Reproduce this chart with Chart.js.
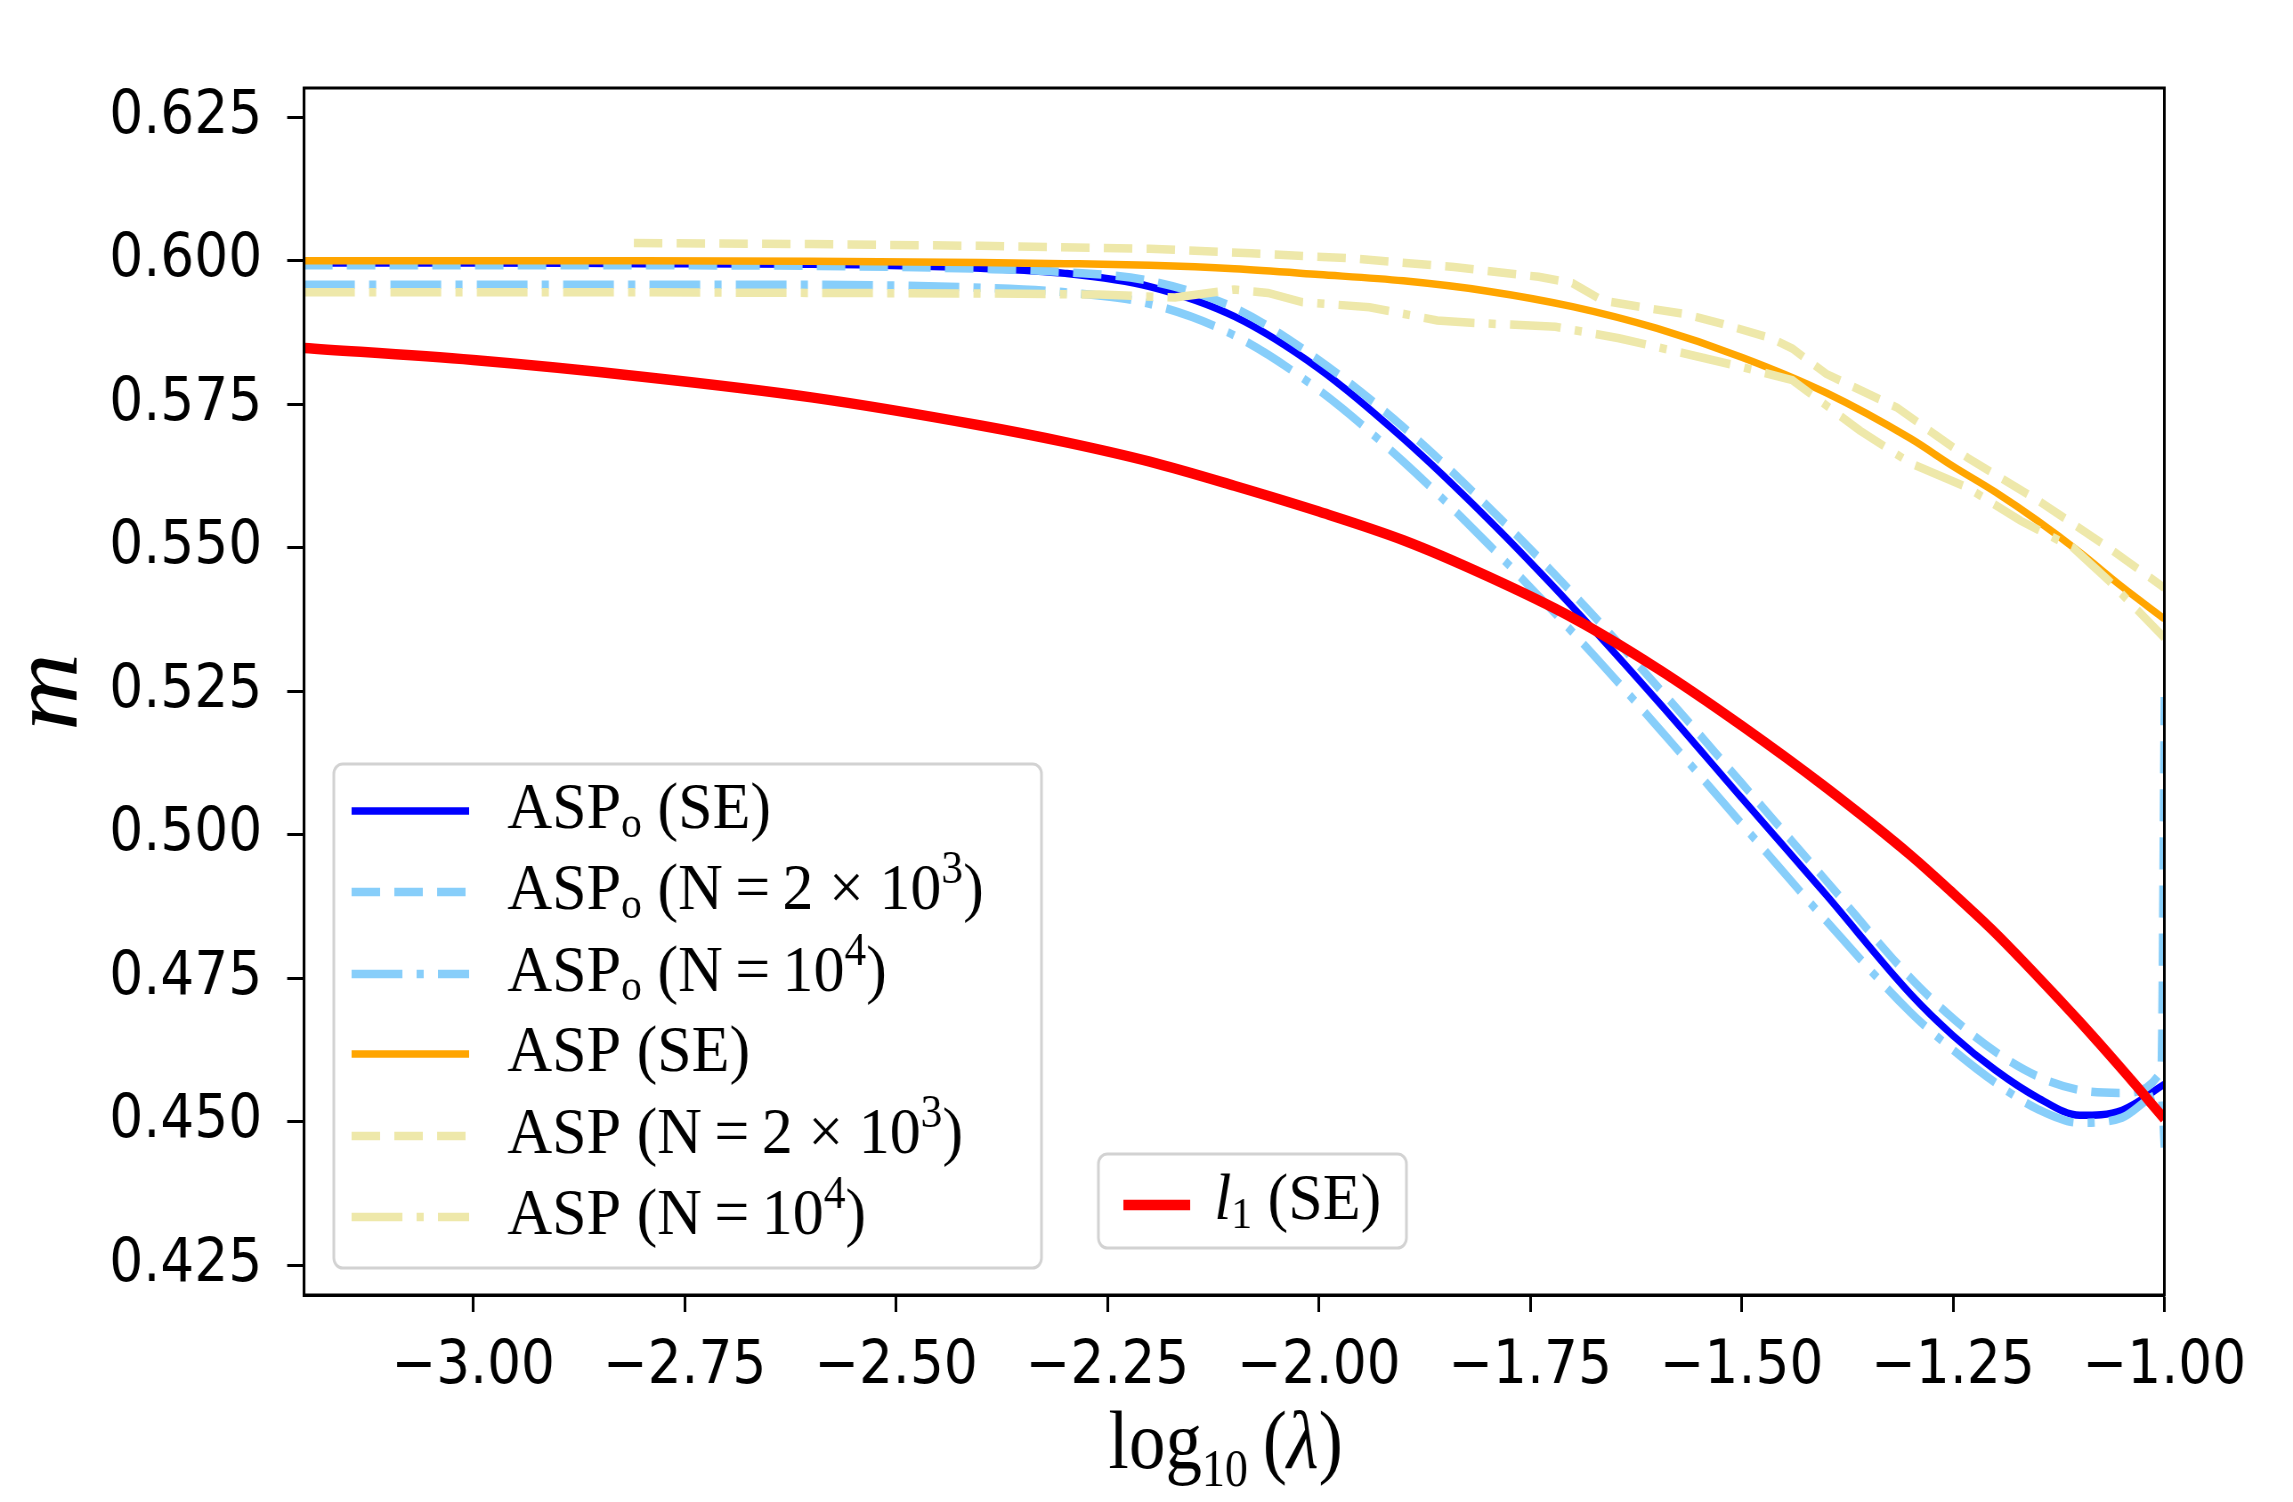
<!DOCTYPE html>
<html>
<head>
<meta charset="utf-8">
<script src="https://cdn.jsdelivr.net/npm/chart.js@4.4.0/dist/chart.umd.min.js"></script>
<style>
html, body { margin: 0; padding: 0; background: #fff; overflow: hidden; }
/* the source figure is squeezed horizontally, so the whole canvas is too */
#wrap { width: 2576px; height: 1502px; transform: scaleX(0.89014); transform-origin: 0 0; }
</style>
</head>
<body>
<div id="wrap"><canvas id="myChart" width="2576" height="1502"></canvas></div>
<script>
// log10(lambda) grid used by the smooth curves
var lamGrid = [-3.2, -3.0, -2.8, -2.6, -2.4, -2.3, -2.2, -2.1, -2.0, -1.9, -1.8, -1.7, -1.6, -1.5, -1.4, -1.3, -1.25, -1.2, -1.15, -1.1, -1.05, -1.0];
var aspoSE = [0.5996, 0.5996, 0.5995, 0.5994, 0.5987, 0.5978, 0.5955, 0.5903, 0.5812, 0.5690, 0.5550, 0.5397, 0.5234, 0.5064, 0.4895, 0.4722, 0.4650, 0.4590, 0.4542, 0.4511, 0.4520, 0.4565];
var aspSE = [0.6000, 0.6000, 0.6000, 0.5999, 0.5997, 0.5995, 0.5992, 0.5986, 0.5976, 0.5965, 0.5947, 0.5920, 0.5882, 0.5832, 0.5770, 0.5690, 0.5642, 0.5597, 0.5547, 0.5492, 0.5432, 0.5376];
var l1SE = [0.5848, 0.5827, 0.5798, 0.5762, 0.5713, 0.5684, 0.5650, 0.5608, 0.5563, 0.5513, 0.5450, 0.5378, 0.5290, 0.5190, 0.5082, 0.4964, 0.4898, 0.4829, 0.4753, 0.4674, 0.4591, 0.4505];

// simulated ASP_o runs (they jump at the right edge)
var lamAspo = [-3.2, -3.0, -2.8, -2.6, -2.4, -2.3, -2.2, -2.1, -2.0, -1.9, -1.8, -1.7, -1.6, -1.5, -1.4, -1.3, -1.25, -1.2, -1.15, -1.1, -1.05, -1.004, -1.0];
var aspoN2k = [0.5992, 0.5992, 0.5992, 0.5991, 0.5986, 0.5980, 0.5965, 0.5918, 0.5827, 0.5710, 0.5572, 0.5421, 0.5259, 0.5090, 0.4920, 0.4750, 0.4680, 0.4622, 0.4579, 0.4555, 0.4550, 0.4588, 0.5240];
var aspoN10k = [0.5958, 0.5958, 0.5958, 0.5958, 0.5953, 0.5945, 0.5925, 0.5870, 0.5775, 0.5650, 0.5507, 0.5353, 0.5189, 0.5019, 0.4850, 0.4690, 0.4625, 0.4568, 0.4522, 0.4498, 0.4507, 0.4548, 0.4455];

// simulated ASP runs
var lamAspN2k = [-2.81, -2.6, -2.4, -2.2, -2.08, -1.96, -1.84, -1.74, -1.70, -1.665, -1.61, -1.57, -1.525, -1.465, -1.44, -1.40, -1.316, -1.233, -1.149, -1.066, -1.0];
var aspN2k = [0.6031, 0.6029, 0.6026, 0.6021, 0.6013, 0.6004, 0.5989, 0.5972, 0.5961, 0.5931, 0.5917, 0.5908, 0.5891, 0.5865, 0.5847, 0.5803, 0.5744, 0.5657, 0.5582, 0.5500, 0.5430];
var lamAspN10k = [-3.2, -2.8, -2.4, -2.26, -2.17, -2.10, -2.06, -2.02, -1.94, -1.86, -1.82, -1.72, -1.645, -1.566, -1.50, -1.44, -1.36, -1.30, -1.233, -1.17, -1.108, -1.066, -1.0];
var aspN10k = [0.5945, 0.5945, 0.5943, 0.5941, 0.5936, 0.5950, 0.5944, 0.5928, 0.5919, 0.5896, 0.5892, 0.5885, 0.5865, 0.5838, 0.5815, 0.5792, 0.5704, 0.5647, 0.5605, 0.5547, 0.5500, 0.5443, 0.5343];

var xTicks = [-3.0, -2.75, -2.5, -2.25, -2.0, -1.75, -1.5, -1.25, -1.0];
var yTicks = [0.425, 0.45, 0.475, 0.5, 0.525, 0.55, 0.575, 0.6, 0.625];

// legend texts, split in runs: [text, kind]
var legendMain = [
    [['ASP'], ['o', 'sub'], [' (SE)']],
    [['ASP'], ['o', 'sub'], [' (N\u2009=\u20092 \u00d7 10'], ['3', 'sup'], [')']],
    [['ASP'], ['o', 'sub'], [' (N\u2009=\u200910'], ['4', 'sup'], [')']],
    [['ASP (SE)']],
    [['ASP (N\u2009=\u20092 \u00d7 10'], ['3', 'sup'], [')']],
    [['ASP (N\u2009=\u200910'], ['4', 'sup'], [')']]
];
var legendSide = [['l', 'it'], ['1', 'sub'], [' (SE)']];
var xTitle = [['log'], ['10', 'sub'], ['\u2009('], ['\u03bb', 'it'], [')']];

function pts(xs, ys) {
    return xs.map(function(x, i) { return {x: x, y: ys[i]}; });
}

var SERIF = '"Liberation Serif", serif';

// draws a run list from (x, y), stretched horizontally by k
function drawRich(ctx, parts, x, y, size, sc, k) {
    ctx.save();
    ctx.translate(x, y);
    ctx.scale(k || 1, 1);
    var cx = 0;
    for (var i = 0; i < parts.length; i++) {
        var t = parts[i][0], kind = parts[i][1] || '';
        var fs = size, dy = 0, style = '';
        if (kind === 'sub') { fs = size * sc.sub; dy = size * sc.subShift; }
        if (kind === 'sup') { fs = size * sc.sup; dy = -size * sc.supShift; }
        if (kind === 'it') style = 'italic ';
        ctx.font = style + fs + 'px ' + SERIF;
        ctx.fillText(t, cx, dy);
        cx += ctx.measureText(t).width;
    }
    ctx.restore();
    return cx * (k || 1);
}

function richWidth(ctx, parts, size, sc, k) {
    ctx.save();
    ctx.globalAlpha = 0;
    var w = drawRich(ctx, parts, 0, 0, size, sc, k);
    ctx.restore();
    return w;
}

function roundBox(ctx, x, y, w, h, r) {
    ctx.save();
    ctx.beginPath();
    ctx.moveTo(x + r, y);
    ctx.arcTo(x + w, y, x + w, y + h, r);
    ctx.arcTo(x + w, y + h, x, y + h, r);
    ctx.arcTo(x, y + h, x, y, r);
    ctx.arcTo(x, y, x + w, y, r);
    ctx.closePath();
    ctx.fillStyle = 'rgba(255,255,255,0.85)';
    ctx.fill();
    ctx.strokeStyle = '#d2d2d2';
    ctx.lineWidth = 3;
    ctx.stroke();
    ctx.restore();
}

function sample(ctx, ds, x0, x1, y) {
    ctx.save();
    ctx.strokeStyle = ds.borderColor;
    ctx.lineWidth = ds.borderWidth;
    ctx.setLineDash(ds.borderDash || []);
    ctx.lineCap = 'butt';
    ctx.beginPath();
    ctx.moveTo(x0, y);
    ctx.lineTo(x1, y);
    ctx.stroke();
    ctx.restore();
}

var extras = {
    id: 'extras',
    afterDatasetsDraw: function(chart) {
        var ctx = chart.ctx, a = chart.chartArea;
        ctx.save();
        ctx.strokeStyle = '#000';
        ctx.lineWidth = 3;
        ctx.strokeRect(a.left, a.top, a.right - a.left, a.bottom - a.top);
        ctx.restore();
    },
    afterDraw: function(chart) {
        var ctx = chart.ctx;
        var ds = chart.data.datasets;
        var lsc = {sub: 0.67, subShift: 0.14, sup: 0.7, supShift: 0.39};

        // main legend
        roundBox(ctx, 375, 764, 795, 504, 10);
        // second legend
        roundBox(ctx, 1234, 1154, 346, 94, 10);

        ctx.save();
        ctx.fillStyle = '#000';
        ctx.textBaseline = 'alphabetic';
        ctx.textAlign = 'left';

        var rows = [811, 892, 974, 1054, 1136, 1217];
        for (var i = 0; i < 6; i++) {
            sample(ctx, ds[i], 395, 527, rows[i]);
            drawRich(ctx, legendMain[i], 570, rows[i] + 17, 66, lsc, 1.055);
        }
        sample(ctx, ds[6], 1262, 1337, 1205);
        drawRich(ctx, legendSide, 1364, 1219, 66, lsc, 1.055);

        // x title
        var xsc = {sub: 0.634, subShift: 0.22, sup: 0.7, supShift: 0.39};
        var w = richWidth(ctx, xTitle, 82, xsc, 1);
        drawRich(ctx, xTitle, 1377 - w / 2, 1468, 82, xsc, 1);

        // y title
        ctx.translate(86, 692);
        ctx.rotate(-Math.PI / 2);
        ctx.textAlign = 'center';
        ctx.font = 'italic 108px ' + SERIF;
        ctx.fillText('m', 0, 0);
        ctx.restore();
    }
};

var tickFont = {family: 'DejaVu Sans', size: 60};

var ctx = document.getElementById('myChart').getContext('2d');
var myChart = new Chart(ctx, {
    type: 'line',
    data: {
        datasets: [
            {label: 'ASPo (SE)', data: pts(lamGrid, aspoSE), borderColor: '#0000ff', borderWidth: 7.5, cubicInterpolationMode: 'monotone', order: 7},
            {label: 'ASPo (N=2x10^3)', data: pts(lamAspo, aspoN2k), borderColor: '#87cefa', borderWidth: 8.5, borderDash: [32, 16], cubicInterpolationMode: 'monotone', order: 6},
            {label: 'ASPo (N=10^4)', data: pts(lamAspo, aspoN10k), borderColor: '#87cefa', borderWidth: 8.5, borderDash: [57, 16, 8, 16], cubicInterpolationMode: 'monotone', order: 5},
            {label: 'ASP (SE)', data: pts(lamGrid, aspSE), borderColor: '#ffa500', borderWidth: 7.5, cubicInterpolationMode: 'monotone', order: 4},
            {label: 'ASP (N=2x10^3)', data: pts(lamAspN2k, aspN2k), borderColor: '#eee8aa', borderWidth: 8.5, borderDash: [32, 16], tension: 0, order: 3},
            {label: 'ASP (N=10^4)', data: pts(lamAspN10k, aspN10k), borderColor: '#eee8aa', borderWidth: 8.5, borderDash: [57, 16, 8, 16], tension: 0, order: 2},
            {label: 'l1 (SE)', data: pts(lamGrid, l1SE), borderColor: '#ff0000', borderWidth: 10.5, cubicInterpolationMode: 'monotone', order: 1}
        ]
    },
    options: {
        responsive: false,
        devicePixelRatio: 1,
        animation: false,
        elements: { point: { radius: 0 }, line: { fill: false, borderCapStyle: 'butt' } },
        layout: { padding: { left: 0, top: 88, right: 144.5, bottom: 0 } },
        plugins: { legend: { display: false }, tooltip: { enabled: false } },
        scales: {
            x: {
                type: 'linear',
                min: -3.2,
                max: -1.0,
                afterBuildTicks: function(s) { s.ticks = xTicks.map(function(v) { return {value: v}; }); },
                afterFit: function(s) { s.height = 207; },
                ticks: {
                    font: tickFont, color: '#000', padding: 19, maxRotation: 0, autoSkip: false,
                    callback: function(v) { return (v < 0 ? '\u2212' : '') + Math.abs(v).toFixed(2); }
                },
                grid: { drawOnChartArea: false, drawTicks: true, tickLength: 17, tickWidth: 3, tickColor: '#000' },
                border: { display: true, color: '#000', width: 3 }
            },
            y: {
                min: 0.4198,
                max: 0.6301,
                afterBuildTicks: function(s) { s.ticks = yTicks.map(function(v) { return {value: v}; }); },
                afterFit: function(s) { s.width = 341.6; },
                ticks: {
                    font: tickFont, color: '#000', padding: 28, autoSkip: false,
                    callback: function(v) { return v.toFixed(3); }
                },
                grid: { drawOnChartArea: false, drawTicks: true, tickLength: 19, tickWidth: 3, tickColor: '#000' },
                border: { display: true, color: '#000', width: 3 }
            }
        }
    },
    plugins: [extras]
});
</script>
</body>
</html>
